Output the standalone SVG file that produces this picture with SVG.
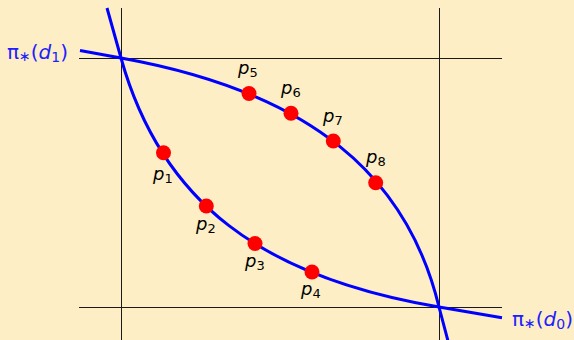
<svg xmlns="http://www.w3.org/2000/svg" width="574" height="340" viewBox="0 0 574 340">
<style>
.bg{fill:#FDEEC5}
.axis{stroke:#1a1a1a;stroke-width:1;fill:none}
.curve{stroke:#0000FF;stroke-width:3;fill:none;stroke-linecap:butt}
.pt{fill:#FF0000}
.lbl{font-family:"DejaVu Sans",sans-serif;font-size:18px;fill:#000}
.blbl{font-family:"DejaVu Sans",sans-serif;font-size:20px;fill:#2020FF}
.it{font-style:italic}
</style>
<rect class="bg" x="0" y="0" width="574" height="340"/>
<g id="axes">
<line class="axis" x1="79" y1="58.5" x2="502" y2="58.5"/>
<line class="axis" x1="79" y1="307.5" x2="502" y2="307.5"/>
<line class="axis" x1="121.5" y1="8" x2="121.5" y2="340"/>
<line class="axis" x1="439.5" y1="8" x2="439.5" y2="340"/>
</g>
<g id="connectors">
<path id="curve-d1" class="curve" d="M80,50.5 L121,58 C311,92.2 407.3,176 439,307 L448,341"/>
<path id="curve-d0" class="curve" d="M107,8 L121,58 C161.5,202.5 261.5,277 439,307 L502,317.7"/>
</g>
<g id="p1"><circle class="pt" cx="163.5" cy="152.7" r="7.5"/><text class="lbl" x="153" y="180"><tspan class="it">p</tspan><tspan font-size="13" dy="3">1</tspan></text></g>
<g id="p2"><circle class="pt" cx="206.3" cy="206" r="7.5"/><text class="lbl" x="196" y="230"><tspan class="it">p</tspan><tspan font-size="13" dy="3">2</tspan></text></g>
<g id="p3"><circle class="pt" cx="255" cy="243.5" r="7.5"/><text class="lbl" x="245" y="267"><tspan class="it">p</tspan><tspan font-size="13" dy="3">3</tspan></text></g>
<g id="p4"><circle class="pt" cx="312" cy="272" r="7.5"/><text class="lbl" x="301" y="295"><tspan class="it">p</tspan><tspan font-size="13" dy="3">4</tspan></text></g>
<g id="p5"><circle class="pt" cx="249" cy="93.5" r="7.5"/><text class="lbl" x="238" y="74"><tspan class="it">p</tspan><tspan font-size="13" dy="3">5</tspan></text></g>
<g id="p6"><circle class="pt" cx="291" cy="113.3" r="7.5"/><text class="lbl" x="281" y="94"><tspan class="it">p</tspan><tspan font-size="13" dy="3">6</tspan></text></g>
<g id="p7"><circle class="pt" cx="333.3" cy="141" r="7.5"/><text class="lbl" x="323" y="122"><tspan class="it">p</tspan><tspan font-size="13" dy="3">7</tspan></text></g>
<g id="p8"><circle class="pt" cx="375.7" cy="182.7" r="7.5"/><text class="lbl" x="366" y="163"><tspan class="it">p</tspan><tspan font-size="13" dy="3">8</tspan></text></g>
<g id="label-d1"><text class="blbl" x="7" y="59">π<tspan font-size="14" dy="2">∗</tspan><tspan dy="-2">(</tspan><tspan class="it">d</tspan><tspan font-size="14" dy="3">1</tspan><tspan dy="-3">)</tspan></text></g>
<g id="label-d0"><text class="blbl" x="512" y="326">π<tspan font-size="14" dy="2">∗</tspan><tspan dy="-2">(</tspan><tspan class="it">d</tspan><tspan font-size="14" dy="3">0</tspan><tspan dy="-3">)</tspan></text></g>
</svg>
